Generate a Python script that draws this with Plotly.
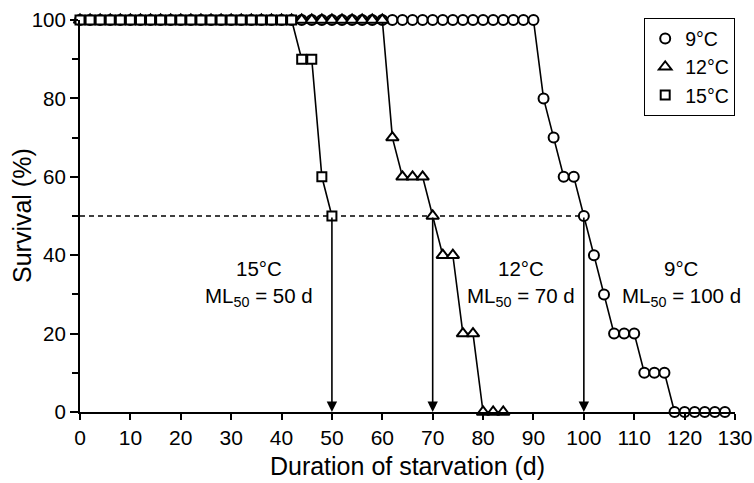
import plotly.graph_objects as go

# ---- data ----
days_9 = [0, 2, 4, 6, 8, 10, 12, 14, 16, 18, 20, 22, 24, 26, 28, 30, 32, 34, 36, 38, 40,
          42, 44, 46, 48, 50, 52, 54, 56, 58, 60, 62, 64, 66, 68, 70, 72, 74, 76, 78, 80,
          82, 84, 86, 88, 90, 92, 94, 96, 98, 100, 102, 104, 106, 108, 110, 112, 114, 116,
          118, 120, 122, 124, 126, 128]
surv_9 = [100, 100, 100, 100, 100, 100, 100, 100, 100, 100, 100, 100, 100, 100, 100, 100,
          100, 100, 100, 100, 100, 100, 100, 100, 100, 100, 100, 100, 100, 100, 100, 100,
          100, 100, 100, 100, 100, 100, 100, 100, 100, 100, 100, 100, 100, 100,
          80, 70, 60, 60, 50, 40, 30, 20, 20, 20, 10, 10, 10, 0, 0, 0, 0, 0, 0]

days_12 = [0, 2, 4, 6, 8, 10, 12, 14, 16, 18, 20, 22, 24, 26, 28, 30, 32, 34, 36, 38, 40,
           42, 44, 46, 48, 50, 52, 54, 56, 58, 60, 62, 64, 66, 68, 70, 72, 74, 76, 78, 80,
           82, 84]
surv_12 = [100, 100, 100, 100, 100, 100, 100, 100, 100, 100, 100, 100, 100, 100, 100, 100,
           100, 100, 100, 100, 100, 100, 100, 100, 100, 100, 100, 100, 100, 100, 100,
           70, 60, 60, 60, 50, 40, 40, 20, 20, 0, 0, 0]

days_15 = [0, 2, 4, 6, 8, 10, 12, 14, 16, 18, 20, 22, 24, 26, 28, 30, 32, 34, 36, 38, 40,
           42, 44, 46, 48, 50]
surv_15 = [100, 100, 100, 100, 100, 100, 100, 100, 100, 100, 100, 100, 100, 100, 100, 100,
           100, 100, 100, 100, 100, 100, 90, 90, 60, 50]

series_names = ["9°C", "12°C", "15°C"]
ml50_days = [100, 70, 50]
temp_labels = ["9°C", "12°C", "15°C"]
ml50_labels = ["ML<sub>50</sub> = 100 d", "ML<sub>50</sub> = 70 d", "ML<sub>50</sub> = 50 d"]
label_x = [119.4, 87.6, 35.6]
temp_label_y = 36.6
ml_label_y = 29.4

FONT = "Liberation Sans, Arial, Helvetica, sans-serif"
SYMBOLS = ["circle", "triangle-up", "square"]
SIZES = [10, 11, 9]

fig = go.Figure()

# dashed 50 % line
fig.add_trace(go.Scatter(x=[0, 100], y=[50, 50], mode="lines",
                         line=dict(color="black", width=1.5, dash="5px,4px"),
                         showlegend=False, hoverinfo="skip"))

for d, s, sym, sz in zip([days_9, days_12, days_15], [surv_9, surv_12, surv_15], SYMBOLS, SIZES):
    fig.add_trace(go.Scatter(
        x=d, y=s, mode="lines+markers", cliponaxis=False, showlegend=False,
        line=dict(color="black", width=1.6),
        marker=dict(symbol=sym, size=sz, color="white", line=dict(color="black", width=2))))

# legend-only entries (markers only, as in the reference)
for name, sym, sz in zip(series_names, SYMBOLS, SIZES):
    fig.add_trace(go.Scatter(
        x=[None], y=[None], mode="markers", name=name,
        marker=dict(symbol=sym, size=sz, color="white", line=dict(color="black", width=2))))

annotations = []
for xd in ml50_days:
    annotations.append(dict(x=xd, y=0, ax=xd, ay=50, xref="x", yref="y", axref="x", ayref="y",
                            text="", showarrow=True, arrowhead=2, arrowsize=1.3,
                            arrowwidth=1.6, arrowcolor="black", standoff=0))
for lx, t1, t2 in zip(label_x, temp_labels, ml50_labels):
    annotations.append(dict(x=lx, y=temp_label_y, xref="x", yref="y", text=t1, showarrow=False,
                            font=dict(size=20.5, color="black", family=FONT)))
    annotations.append(dict(x=lx, y=ml_label_y, xref="x", yref="y", text=t2, showarrow=False,
                            font=dict(size=20.5, color="black", family=FONT)))
# y-axis title placed as text, 22 px from the left edge of the page
annotations.append(dict(x=-58 / 655, y=0.5, xref="paper", yref="paper", xanchor="center",
                        yanchor="middle", text="Survival (%)", textangle=-90, showarrow=False,
                        font=dict(size=25, color="black", family=FONT)))

fig.update_layout(
    width=754, height=483,
    margin=dict(l=80, r=19, t=20, b=71),
    paper_bgcolor="white", plot_bgcolor="white",
    font=dict(family=FONT, color="black", size=20),
    annotations=annotations,
    legend=dict(x=1.0, xanchor="right", y=1.005, yanchor="top",
                bordercolor="black", borderwidth=1.2, bgcolor="white",
                font=dict(size=19.5, family=FONT), itemwidth=30, tracegroupgap=0),
    xaxis=dict(range=[0, 130], tickmode="linear", tick0=0, dtick=10, automargin=False,
               showline=True, linecolor="black", linewidth=2, ticks="outside",
               ticklen=6, tickwidth=2, tickcolor="black", showgrid=False, zeroline=False,
               title=dict(text="Duration of starvation (d)", font=dict(size=25), standoff=9),
               tickfont=dict(size=21)),
    yaxis=dict(range=[0, 100], tickmode="linear", tick0=0, dtick=20, automargin=False,
               showline=True, linecolor="black", linewidth=2, ticks="outside",
               ticklen=8, tickwidth=2, tickcolor="black", showgrid=False, zeroline=False,
               minor=dict(dtick=10, ticks="outside", ticklen=6, tickwidth=2, tickcolor="black"),
               tickfont=dict(size=20.5)),
)

fig.write_html("out.html")
